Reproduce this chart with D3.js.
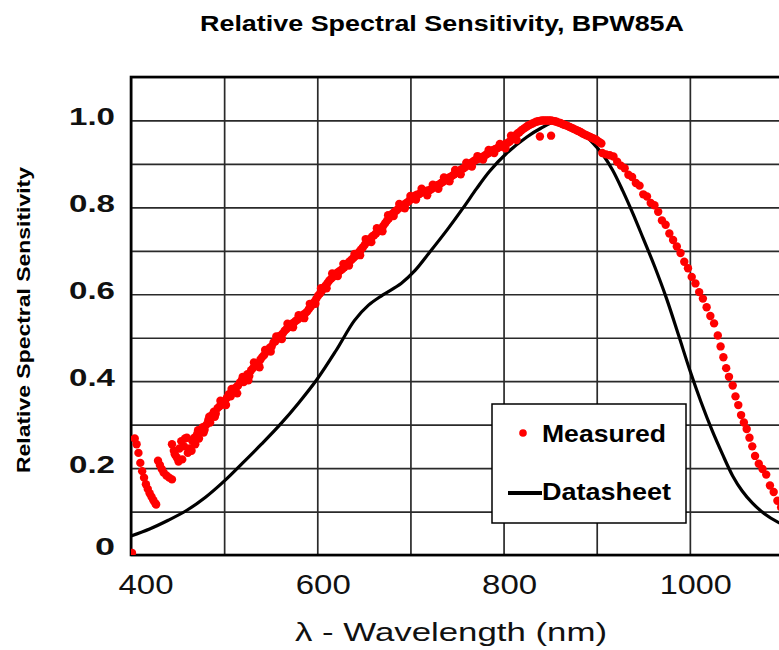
<!DOCTYPE html>
<head>
    <meta charset="utf-8">
    <script src="https://d3js.org/d3.v7.min.js"></script>
    <style>
        body {
            margin: 0;
            background: #fff;
            font-family: "Liberation Sans", Arial, sans-serif;
        }
        .grid line {
            stroke: #2a2a2a;
            stroke-width: 1.7;
        }
        .grid path {
            display: none;
        }
    </style>
</head>

<body>
    <script>
        // wavelength ticks and sensitivity ticks
        var xTicks = [400, 500, 600, 700, 800, 900, 1000, 1100],
            xLabels = [400, 600, 800, 1000],
            yTicks = [0, 0.1, 0.2, 0.3, 0.4, 0.5, 0.6, 0.7, 0.8, 0.9, 1.0, 1.1],
            yLabels = [0, 0.2, 0.4, 0.6, 0.8, 1.0];

        // datasheet curve
        var sheetNm = [400, 420, 440, 460, 480, 500, 520, 540, 560, 580, 600, 620, 640, 655, 670, 690, 705, 720, 740,
            757, 771, 785, 803, 825, 840, 855, 865, 875, 886, 896, 907, 917, 928, 939, 950, 962, 975, 988, 1000,
            1012, 1024, 1035, 1046, 1056, 1067, 1080, 1095, 1100];
        var sheetVal = [0.044, 0.06, 0.08, 0.103, 0.133, 0.17, 0.212, 0.255, 0.30, 0.35, 0.405, 0.47, 0.54, 0.575, 0.598, 0.625, 0.655, 0.695, 0.75,
            0.80, 0.843, 0.883, 0.924, 0.962, 0.982, 0.997, 0.996, 0.985, 0.968, 0.948, 0.92, 0.886, 0.838, 0.785, 0.728, 0.665, 0.59, 0.505, 0.425,
            0.352, 0.286, 0.232, 0.182, 0.148, 0.12, 0.095, 0.075, 0.07];

        // measured points
        var measNm = [401,
            404, 406, 408, 410, 412, 414, 416, 418, 420, 422, 424, 426, 427,
            429, 431, 433, 435, 438, 441, 444,
            444, 446, 447, 449, 451, 452, 454, 455, 457, 458, 460, 461, 463, 465, 466, 468, 469,
            471, 473, 475, 477, 479, 481, 483, 485, 487, 489, 491, 493, 495, 497, 499,
            501, 503, 505, 507, 509, 511, 513, 515, 517, 519, 521, 523, 525, 527, 529,
            531, 533, 535, 537, 539, 541, 543, 545, 547, 549, 551, 553, 555, 557, 559,
            561, 563, 565, 567, 569, 571, 573, 575, 577, 579, 581, 583, 585, 587, 589,
            591, 593, 595, 597, 599, 601, 603, 605, 607, 609, 611, 613, 615, 617, 619,
            621, 623, 625, 627, 629, 631, 633, 635, 637, 639, 641, 643, 645, 647, 649,
            651, 653, 655, 657, 659, 661, 663, 665, 667, 669, 671, 673, 675, 677, 679,
            681, 683, 685, 687, 689, 691, 693, 695, 697, 699, 701, 703, 705, 707, 709,
            711, 713, 715, 717, 719, 721, 723, 725, 727, 729, 731, 733, 735, 737, 739,
            741, 743, 745, 747, 749, 751, 753, 755, 757, 759, 761, 763, 765, 767, 769,
            771, 773, 775, 777, 779, 781, 783, 785, 787, 789, 791, 793, 795, 797, 799,
            801, 803, 805, 807, 809, 811, 813, 815, 817, 819, 821, 823, 825, 827, 829,
            831, 833, 835, 837, 839, 841, 843, 845, 847, 849, 851, 853, 855, 857, 859,
            861, 863, 865, 867, 869, 871, 873, 875, 877, 879, 881, 883, 885, 887, 889,
            891, 893, 895, 897, 899, 901, 903, 905,
            839, 851,
            906, 910, 914, 918, 922, 926, 930, 934, 938, 942, 946, 950, 954, 958, 962, 966, 970, 974, 978,
            982, 986, 990, 994, 998, 1002, 1006, 1010, 1014, 1018, 1022, 1026, 1030, 1033, 1036, 1039, 1042, 1046,
            1049, 1052, 1055, 1058, 1061, 1064, 1067, 1070, 1074, 1078, 1082, 1086, 1090, 1094, 1098];
        var measVal = [0.005,
            0.268, 0.255, 0.235, 0.212, 0.193, 0.178, 0.163, 0.152, 0.142, 0.134, 0.126, 0.119, 0.116,
            0.217, 0.207, 0.198, 0.19, 0.183, 0.178, 0.174,
            0.255, 0.24, 0.232, 0.225, 0.215, 0.245, 0.262, 0.22, 0.25, 0.268, 0.27, 0.235, 0.245, 0.24, 0.262, 0.27, 0.255,
            0.278, 0.268, 0.285, 0.294, 0.288, 0.30, 0.31, 0.305, 0.322, 0.33, 0.325, 0.338, 0.342, 0.35, 0.346,
            0.355, 0.362, 0.37, 0.365, 0.375, 0.38, 0.386, 0.39, 0.397, 0.402, 0.398, 0.41, 0.416, 0.412, 0.425,
            0.43, 0.436, 0.44, 0.438, 0.45, 0.456, 0.46, 0.467, 0.47, 0.477, 0.48, 0.489, 0.492, 0.497, 0.503,
            0.506, 0.51, 0.516, 0.52, 0.524, 0.529, 0.532, 0.535, 0.539, 0.542, 0.546, 0.549, 0.553, 0.556, 0.56,
            0.566, 0.572, 0.577, 0.583, 0.59, 0.597, 0.602, 0.608, 0.615, 0.62, 0.626, 0.632, 0.636, 0.64, 0.645,
            0.649, 0.652, 0.655, 0.658, 0.662, 0.668, 0.672, 0.676, 0.68, 0.684, 0.688, 0.692, 0.698, 0.703, 0.708,
            0.714, 0.72, 0.722, 0.728, 0.733, 0.736, 0.74, 0.745, 0.748, 0.752, 0.758, 0.764, 0.77, 0.775, 0.781,
            0.786, 0.79, 0.793, 0.797, 0.80, 0.803, 0.806, 0.809, 0.812, 0.816, 0.82, 0.823, 0.827, 0.829, 0.83,
            0.833, 0.835, 0.836, 0.838, 0.839, 0.84, 0.843, 0.846, 0.849, 0.851, 0.853, 0.856, 0.859, 0.862, 0.865,
            0.868, 0.87, 0.873, 0.876, 0.879, 0.882, 0.885, 0.888, 0.89, 0.893, 0.896, 0.90, 0.902, 0.905, 0.908,
            0.91, 0.912, 0.914, 0.916, 0.918, 0.921, 0.924, 0.926, 0.929, 0.932, 0.934, 0.936, 0.938, 0.94, 0.943,
            0.945, 0.947, 0.949, 0.952, 0.957, 0.962, 0.966, 0.97, 0.973, 0.977, 0.98, 0.983, 0.986, 0.989, 0.991,
            0.993, 0.995, 0.997, 0.998, 0.999, 1.0, 1.0, 1.0, 1.0, 1.0, 1.0, 0.999, 0.998, 0.997, 0.995,
            0.994, 0.992, 0.99, 0.989, 0.987, 0.985, 0.983, 0.981, 0.979, 0.977, 0.975, 0.973, 0.97, 0.968, 0.966,
            0.964, 0.962, 0.96, 0.958, 0.956, 0.953, 0.95, 0.947,
            0.963, 0.965,
            0.925, 0.922, 0.92, 0.917, 0.905, 0.896, 0.89, 0.875, 0.87, 0.856, 0.85, 0.83, 0.825, 0.81, 0.805, 0.79, 0.77, 0.76, 0.74,
            0.725, 0.71, 0.695, 0.675, 0.66, 0.64, 0.625, 0.605, 0.59, 0.57, 0.55, 0.533, 0.505, 0.48, 0.455, 0.43, 0.41, 0.39,
            0.365, 0.345, 0.322, 0.305, 0.29, 0.27, 0.25, 0.228, 0.21, 0.198, 0.185, 0.16, 0.145, 0.125, 0.11];

        // measured points off the band centre (scatter seen in the picture)
        var scatNm = [472, 478, 484, 490, 496, 502, 508, 514, 520, 526, 532, 538, 544, 550, 556, 562, 568, 574, 580, 586,
            592, 598, 604, 610, 616, 622, 628, 634, 640, 646, 652, 658, 664, 670, 676, 682, 688, 694, 700, 706,
            712, 718, 724, 730, 736, 742, 748, 754, 760, 766, 772, 778, 784, 790, 796, 802, 808, 814];
        var scatVal = [0.287, 0.282, 0.318, 0.318, 0.355, 0.345, 0.382, 0.372, 0.41, 0.402, 0.443, 0.432, 0.472, 0.468, 0.503, 0.497, 0.532, 0.524, 0.552, 0.545,
            0.578, 0.578, 0.614, 0.614, 0.648, 0.642, 0.67, 0.666, 0.693, 0.69, 0.727, 0.72, 0.752, 0.745, 0.782, 0.78, 0.808, 0.798, 0.826, 0.818,
            0.843, 0.828, 0.852, 0.843, 0.869, 0.86, 0.886, 0.876, 0.903, 0.894, 0.918, 0.91, 0.932, 0.925, 0.946, 0.936, 0.965, 0.955];

        var width = 779,
            height = 650,
            pLeft = 131,
            pRight = 783,
            pTop = 77,
            pBottom = 555;

        var x = d3.scaleLinear().domain([400, 1100]).range([pLeft, pRight]),
            y = d3.scaleLinear().domain([0, 1.1]).range([pBottom, pTop]);

        var svg = d3.select("body").append("svg")
            .attr("width", width)
            .attr("height", height);

        svg.append("defs").append("clipPath").attr("id", "plot")
            .append("rect")
            .attr("x", pLeft).attr("y", pTop)
            .attr("width", pRight - pLeft).attr("height", pBottom - pTop);

        // grid
        svg.append("g")
            .attr("class", "grid")
            .attr("transform", "translate(0," + pBottom + ")")
            .call(d3.axisBottom(x).tickValues(xTicks).tickSize(-(pBottom - pTop)).tickFormat(""));
        svg.append("g")
            .attr("class", "grid")
            .attr("transform", "translate(" + pLeft + ",0)")
            .call(d3.axisLeft(y).tickValues(yTicks).tickSize(-(pRight - pLeft)).tickFormat(""));

        // frame
        svg.append("rect")
            .attr("x", pLeft).attr("y", pTop)
            .attr("width", pRight - pLeft).attr("height", pBottom - pTop)
            .attr("fill", "none")
            .attr("stroke", "#000")
            .attr("stroke-width", 2.6);

        var plot = svg.append("g").attr("clip-path", "url(#plot)");

        var line = d3.line()
            .x(function(d, i) { return x(sheetNm[i]); })
            .y(function(d) { return y(d); })
            .curve(d3.curveCatmullRom.alpha(0.5));

        plot.append("path")
            .datum(sheetVal)
            .attr("d", line)
            .attr("fill", "none")
            .attr("stroke", "#000")
            .attr("stroke-width", 3.2);

        var pts = measNm.map(function(n, i) { return [n, measVal[i]]; })
            .concat(scatNm.map(function(n, i) { return [n, scatVal[i]]; }));

        plot.selectAll("circle.meas")
            .data(pts)
            .enter().append("circle")
            .attr("class", "meas")
            .attr("cx", function(d) { return x(d[0]); })
            .attr("cy", function(d) { return y(d[1]); })
            .attr("r", 4.2)
            .attr("fill", "#ff0000");

        // tick labels
        svg.selectAll("text.ylab")
            .data(yLabels)
            .enter().append("text")
            .attr("class", "ylab")
            .attr("x", 115)
            .attr("y", function(d) { return d === 0 ? y(d) : y(d) + 5; })
            .attr("text-anchor", "end")
            .attr("font-size", 24)
            .attr("font-weight", "bold")
            .attr("fill", "#111")
            .attr("textLength", function(d) { return d === 0 ? 20 : 46; })
            .attr("lengthAdjust", "spacingAndGlyphs")
            .text(function(d) { return d === 0 ? "0" : d3.format(".1f")(d); });

        svg.selectAll("text.xlab")
            .data(xLabels)
            .enter().append("text")
            .attr("class", "xlab")
            .attr("x", function(d) { return d === 400 ? x(d) + 15 : x(d) + 6; })
            .attr("y", 594)
            .attr("text-anchor", "middle")
            .attr("font-size", 27)
            .attr("fill", "#111")
            .attr("textLength", function(d) { return d >= 1000 ? 72 : 55; })
            .attr("lengthAdjust", "spacingAndGlyphs")
            .text(function(d) { return d; });

        // titles
        svg.append("text")
            .attr("x", 200)
            .attr("y", 31)
            .attr("font-size", 22)
            .attr("font-weight", "bold")
            .attr("textLength", 484)
            .attr("lengthAdjust", "spacingAndGlyphs")
            .text("Relative Spectral Sensitivity, BPW85A");

        svg.append("text")
            .attr("transform", "translate(30,320) rotate(-90)")
            .attr("text-anchor", "middle")
            .attr("font-size", 19)
            .attr("font-weight", "bold")
            .attr("textLength", 306)
            .attr("lengthAdjust", "spacingAndGlyphs")
            .text("Relative Spectral Sensitivity");

        svg.append("text")
            .attr("x", 295)
            .attr("y", 641)
            .attr("font-size", 26)
            .attr("fill", "#111")
            .attr("textLength", 312)
            .attr("lengthAdjust", "spacingAndGlyphs")
            .text("λ - Wavelength (nm)");

        // legend
        var lg = svg.append("g");
        lg.append("rect")
            .attr("x", 492).attr("y", 404)
            .attr("width", 194).attr("height", 119)
            .attr("fill", "#fff")
            .attr("stroke", "#000")
            .attr("stroke-width", 1.5);
        lg.append("circle")
            .attr("cx", 523).attr("cy", 433).attr("r", 3.8)
            .attr("fill", "#ff0000");
        lg.append("text")
            .attr("x", 542).attr("y", 442)
            .attr("font-size", 24)
            .attr("font-weight", "bold")
            .attr("textLength", 124)
            .attr("lengthAdjust", "spacingAndGlyphs")
            .text("Measured");
        lg.append("line")
            .attr("x1", 508).attr("x2", 542)
            .attr("y1", 493).attr("y2", 493)
            .attr("stroke", "#000")
            .attr("stroke-width", 4);
        lg.append("text")
            .attr("x", 542).attr("y", 500)
            .attr("font-size", 24)
            .attr("font-weight", "bold")
            .attr("textLength", 129)
            .attr("lengthAdjust", "spacingAndGlyphs")
            .text("Datasheet");
    </script>
</body>
